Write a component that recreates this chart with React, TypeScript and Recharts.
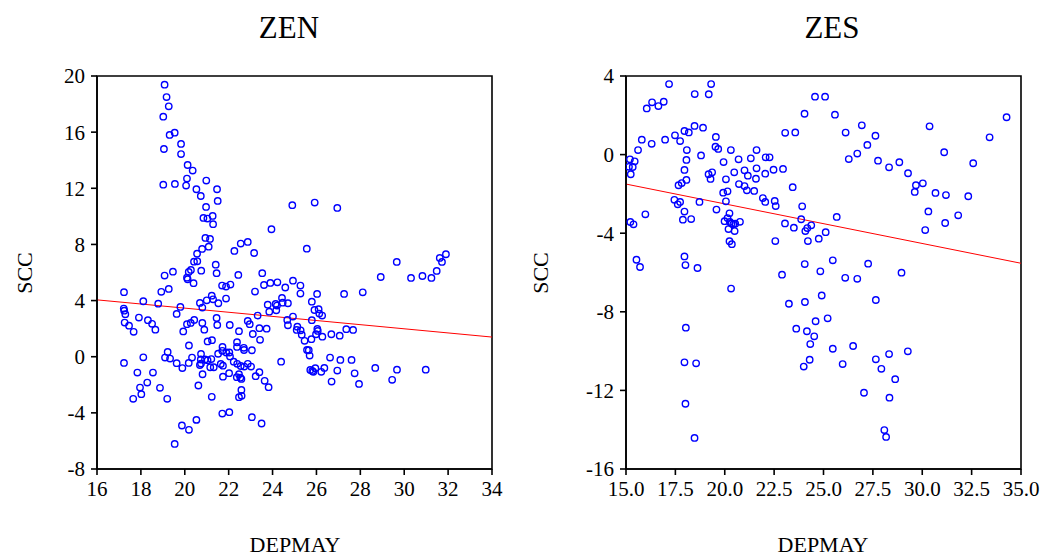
import React from 'react';
import {
  ScatterChart,
  Scatter,
  XAxis,
  YAxis,
  ReferenceArea,
  ReferenceLine,
} from 'recharts';

// ZEN panel
const zenDepmay = [
  19.08, 19.17, 19.27, 19.02, 19.54, 19.31, 19.05, 19.83, 19.83, 20.13, 20.36, 20.1, 20.98, 19.02, 19.55, 20.06,
  20.53, 21.47, 20.73, 21.5, 20.97, 20.85, 21.03, 21.27, 21.29, 23.95, 20.94, 21.15, 21.09, 20.79, 20.56, 20.42,
  20.57, 21.41, 22.26, 22.55, 22.87, 23.16,
  20.18, 20.28, 20.1, 20.13, 19.46, 19.08, 20.75, 21.45, 22.44, 23.53, 20.4, 19.27, 18.93, 17.23, 21.7, 21.88,
  22.08, 23.61, 23.9, 24.22, 23.2, 24.58, 18.11, 18.79, 20.69, 20.8, 21.0, 21.23, 21.29, 21.53, 21.88, 19.8,
  23.78, 24.14, 24.2, 24.46, 24.43, 24.7, 17.22, 17.24, 17.29, 17.91, 18.32, 18.51, 18.66, 17.26, 17.46, 17.67,
  19.63, 20.43, 20.27, 20.1, 19.93, 20.8, 20.89, 21.45, 21.48, 22.05, 22.47, 22.87, 22.96, 23.32, 23.4, 23.73,
  23.1, 23.43, 23.85, 24.17, 24.67, 24.7, 20.19, 21.04, 21.24, 22.38, 22.38, 22.69, 22.7, 23.06, 21.72, 21.71,
  21.89, 22.03, 22.06, 21.52, 19.22, 19.1, 19.33, 18.11, 20.74, 20.73, 20.33, 20.92, 21.04, 21.21, 20.18, 20.69,
  20.74, 19.63, 19.89, 17.23, 21.16, 21.32, 21.64, 21.74, 22.23, 22.39, 22.55, 22.71, 22.87, 23.02, 24.39, 17.84,
  18.55, 20.81, 21.74, 22.02, 22.37, 22.47, 22.53, 22.58, 23.23, 23.4, 18.29, 17.96, 18.87, 20.62, 23.64, 23.82,
  22.58, 18.02, 17.65, 19.2, 21.23, 22.47, 22.59, 21.71, 22.03, 23.06, 23.5, 19.87, 20.19, 20.53, 19.54,
  24.9, 25.92, 26.95, 25.56, 29.66, 31.62, 31.72, 31.9, 31.48, 31.24, 30.83, 30.31, 28.93, 28.11, 27.26, 24.93,
  25.27, 25.27, 26.03, 25.79, 25.91, 26.1, 26.13, 26.26, 24.93, 25.79, 25.13, 25.1, 25.28, 25.33, 25.46, 25.77,
  25.98, 26.04, 26.06, 26.27, 26.68, 27.06, 27.36, 27.67, 25.57, 25.65, 25.69, 26.62, 27.09, 27.6, 25.72, 25.81,
  25.86, 25.95, 26.22, 26.36, 26.95, 27.74, 26.69, 27.94, 28.68, 29.67, 30.98, 29.45,
];
const zenScc = [
  19.38, 18.5, 17.84, 17.1, 15.96, 15.8, 14.8, 15.16, 14.44, 13.66, 13.26, 12.69, 12.55, 12.26, 12.31, 12.19,
  11.93, 11.93, 11.45, 11.1, 10.67, 9.89, 9.84, 10.03, 9.44, 9.08, 8.46, 8.39, 7.84, 7.68, 7.34, 6.77,
  6.8, 6.56, 7.54, 8.06, 8.18, 7.39,
  6.04, 6.18, 5.63, 5.52, 6.06, 5.78, 6.13, 5.95, 5.83, 5.95, 5.24, 4.83, 4.62, 4.6, 5.07, 5.0,
  5.14, 5.11, 5.26, 5.3, 4.64, 4.93, 3.95, 3.78, 3.83, 3.5, 4.02, 4.35, 4.09, 3.81, 4.14, 3.55,
  3.71, 3.76, 3.64, 3.85, 4.19, 3.81, 3.43, 3.28, 3.03, 2.79, 2.6, 2.34, 1.93, 2.43, 2.21, 1.77,
  3.05, 2.62, 2.41, 2.32, 1.8, 2.41, 1.93, 2.76, 2.26, 2.26, 1.82, 2.55, 2.32, 2.93, 2.03, 2.0,
  1.62, 1.2, 3.21, 3.31, 2.62, 2.24, 0.8, 1.09, 1.18, 1.03, 0.7, 0.63, 0.48, 0.46, 0.7, 0.42,
  0.3, 0.3, 0.02, 0.21, 0.34, -0.06, -0.13, -0.04, 0.2, -0.2, -0.06, -0.2, -0.25, -0.17, -0.44, -0.59,
  -0.49, -0.46, -0.81, -0.44, -0.75, -0.75, -0.52, -0.64, -0.35, -0.51, -0.66, -0.7, -0.51, -0.7, -0.35, -1.13,
  -1.13, -1.25, -1.42, -1.17, -1.46, -1.25, -1.49, -1.58, -1.39, -1.1, -1.84, -2.2, -2.22, -2.05, -1.72, -2.17,
  -2.37, -2.67, -3.0, -3.0, -2.86, -2.88, -2.79, -4.05, -3.95, -4.31, -4.76, -4.9, -5.21, -4.5, -6.21,
  10.8, 10.98, 10.6, 7.7, 6.75, 7.04, 6.75, 7.3, 6.11, 5.61, 5.75, 5.61, 5.68, 4.59, 4.47, 5.42,
  5.07, 4.5, 4.47, 3.92, 3.33, 3.38, 3.07, 2.93, 2.86, 2.6, 2.14, 1.91, 1.88, 1.57, 1.13, 1.25,
  1.6, 1.98, 1.84, 1.43, 1.6, 1.5, 1.96, 1.91, 0.48, 0.46, 0.08, -0.06, -0.23, -0.23, -0.94, -1.01,
  -1.08, -0.82, -1.08, -0.8, -0.99, -1.18, -1.77, -1.94, -0.8, -0.92, -0.92, -1.65,
];
const zenFitX = [16, 34];
const zenFitY = [4.05, 1.4];
const zenXTicks = [16, 18, 20, 22, 24, 26, 28, 30, 32, 34];
const zenYTicks = [-8, -4, 0, 4, 8, 12, 16, 20];

// ZES panel
const zesDepmay = [
  17.18, 19.31, 18.48, 19.19, 16.32, 16.64, 16.91, 16.05, 24.57, 24.04, 17.48, 17.96, 18.18, 18.47, 18.9, 15.8,
  16.98, 16.3, 17.74, 15.61, 18.08, 19.55, 19.53, 19.67, 20.31, 21.61, 23.06, 23.57, 18.8, 15.2, 15.44, 15.15,
  15.34, 15.24, 18.06, 20.7, 21.32, 22.07, 22.27, 19.94, 17.96, 18.06, 19.18, 19.36, 19.28, 20.48, 21.0, 21.17,
  21.61, 21.58, 22.05, 22.47, 22.95, 20.06, 17.66, 17.82, 20.72, 21.0, 21.12, 21.49, 19.92, 20.14, 20.06, 21.93,
  22.05, 22.53, 22.58, 23.44, 17.45, 17.62, 17.74, 18.72, 19.58, 17.96, 15.98, 17.88, 18.3, 20.24, 20.14, 19.99,
  20.26, 20.34, 20.43, 20.53, 20.77, 20.19, 20.5, 15.22, 15.38, 23.05, 23.5, 23.92, 23.87, 24.08, 24.18, 24.38,
  22.56, 20.24, 20.36, 24.21, 24.76, 15.53, 15.71, 17.96, 18.01, 18.62, 24.05, 22.9, 24.84,
  20.32, 23.25, 24.06, 24.91, 24.6, 23.62, 24.16, 24.53, 24.33, 24.3, 24.0, 18.03, 17.96, 18.55, 18.01, 18.47,
  25.08, 25.58, 26.12, 26.94, 27.63, 27.22, 26.28, 26.71, 27.76, 28.32, 28.84, 29.28, 29.68, 30.03, 29.62, 30.37,
  31.11, 30.67, 31.2, 33.41, 34.27, 32.58, 32.33, 30.31, 31.82, 31.16, 30.15, 25.11, 25.67, 25.47, 26.1, 26.71,
  27.26, 28.95, 27.65, 25.21, 25.47, 26.5, 25.97, 27.65, 27.93, 28.32, 29.27, 28.63, 27.05, 28.34, 28.08, 28.17,
];
const zesScc = [
  3.59, 3.59, 3.08, 3.07, 2.66, 2.47, 2.69, 2.35, 2.95, 2.08, 0.98, 1.2, 1.13, 1.46, 1.37, 0.76,
  0.76, 0.55, 0.69, 0.23, 0.23, 0.9, 0.4, 0.29, 0.23, 0.23, 1.11, 1.13, -0.04, -0.24, -0.34, -0.62,
  -0.63, -1.0, -0.27, -0.24, -0.19, -0.14, -0.14, -0.38, -0.78, -1.29, -1.0, -0.9, -1.24, -0.9, -0.8, -1.07,
  -0.7, -1.23, -0.97, -0.77, -0.73, -1.26, -1.56, -1.45, -1.5, -1.6, -1.82, -1.85, -1.94, -1.87, -2.38, -2.21,
  -2.41, -2.36, -2.62, -1.66, -2.3, -2.53, -2.41, -2.41, -2.8, -2.9, -3.04, -3.31, -3.28, -2.99, -3.23, -3.39,
  -3.43, -3.5, -3.55, -3.52, -3.42, -3.79, -3.89, -3.43, -3.55, -3.5, -3.72, -2.63, -3.29, -3.89, -3.74, -3.6,
  -4.4, -4.41, -4.56, -4.4, -4.28, -5.35, -5.72, -5.18, -5.62, -5.77, -5.57, -6.11, -5.94,
  -6.82, -7.59, -7.5, -7.17, -8.48, -8.86, -8.99, -9.25, -9.64, -10.44, -10.79, -8.81, -10.57, -10.62, -12.68, -14.42,
  2.95, 2.03, 1.12, 1.49, 0.96, 0.49, -0.23, 0.05, -0.31, -0.65, -0.39, -0.95, -1.56, -1.46, -1.9, 1.44,
  0.12, -1.95, -2.06, 0.88, 1.9, -0.44, -2.12, -2.89, -3.09, -3.48, -3.84, -3.95, -3.17, -5.38, -6.27, -6.32,
  -5.55, -6.01, -7.4, -8.33, -9.88, -9.74, -10.66, -10.42, -10.9, -10.15, -10.01, -11.43, -12.12, -12.37, -14.02, -14.37,
];
const zesFitX = [15, 35];
const zesFitY = [-1.5, -5.53];
const zesXTicks = [15, 17.5, 20, 22.5, 25, 27.5, 30, 32.5, 35];
const zesYTicks = [-16, -12, -8, -4, 0, 4];

const FONT = '"Liberation Serif", "Times New Roman", serif';

const toPoints = (xs: number[], ys: number[]) => xs.map((x, i) => ({ x, y: ys[i] }));

const Ring = (props: any) => {
  const { cx, cy } = props;
  if (cx == null || cy == null) return null;
  return <circle cx={cx} cy={cy} r={3.2} fill="none" stroke="#0000ff" strokeWidth={1.4} />;
};

interface PanelProps {
  left: number;
  width: number;
  marginLeft: number;
  marginRight: number;
  title: string;
  titleX: number;
  labelX: number;
  sccX: number;
  xs: number[];
  ys: number[];
  xTicks: number[];
  yTicks: number[];
  fitX: number[];
  fitY: number[];
  xFormat?: (v: number) => string;
}

function Panel(p: PanelProps) {
  const data = toPoints(p.xs, p.ys);
  const xDomain = [p.xTicks[0], p.xTicks[p.xTicks.length - 1]];
  const yDomain = [p.yTicks[0], p.yTicks[p.yTicks.length - 1]];
  const tickStyle = { fill: '#000', fontSize: 21, fontFamily: FONT };
  const textBase: React.CSSProperties = {
    position: 'absolute',
    fontFamily: FONT,
    color: '#000',
    whiteSpace: 'nowrap',
    lineHeight: 1,
  };

  return (
    <div style={{ position: 'absolute', left: p.left, top: 0, width: p.width, height: 556 }}>
      <ScatterChart
        width={p.width}
        height={556}
        margin={{ top: 76, right: p.marginRight, bottom: 0, left: p.marginLeft }}
      >
        <XAxis
          type="number"
          dataKey="x"
          domain={xDomain}
          ticks={p.xTicks}
          interval={0}
          allowDataOverflow
          height={87}
          tickSize={6}
          tickMargin={6}
          tick={tickStyle}
          tickFormatter={p.xFormat}
          stroke="#000"
          strokeWidth={1.6}
        />
        <YAxis
          type="number"
          dataKey="y"
          domain={yDomain}
          ticks={p.yTicks}
          interval={0}
          allowDataOverflow
          width={60}
          tickSize={6}
          tickMargin={6}
          tick={tickStyle}
          stroke="#000"
          strokeWidth={1.6}
        />
        <ReferenceArea
          x1={xDomain[0]}
          x2={xDomain[1]}
          y1={yDomain[0]}
          y2={yDomain[1]}
          fill="none"
          stroke="#000"
          strokeWidth={1.6}
        />
        <ReferenceLine
          segment={[
            { x: p.fitX[0], y: p.fitY[0] },
            { x: p.fitX[1], y: p.fitY[1] },
          ]}
          stroke="#ff0000"
          strokeWidth={1}
        />
        <Scatter data={data} shape={Ring} isAnimationActive={false} />
      </ScatterChart>
      <div style={{ ...textBase, left: p.titleX, top: 27, fontSize: 31, transform: 'translate(-50%, -50%)' }}>
        {p.title}
      </div>
      <div style={{ ...textBase, left: p.labelX, top: 545, fontSize: 22, transform: 'translate(-50%, -50%)' }}>
        DEPMAY
      </div>
      <div
        style={{
          ...textBase,
          left: p.sccX,
          top: 273,
          fontSize: 22,
          transform: 'translate(-50%, -50%) rotate(-90deg)',
        }}
      >
        SCC
      </div>
    </div>
  );
}

export default function App() {
  return (
    <div style={{ position: 'absolute', left: 0, top: 0, width: 1041, height: 556, background: '#fff' }}>
      <Panel
        left={0}
        width={520}
        marginLeft={37}
        marginRight={28}
        title="ZEN"
        titleX={289}
        labelX={295}
        sccX={25}
        xs={zenDepmay}
        ys={zenScc}
        xTicks={zenXTicks}
        yTicks={zenYTicks}
        fitX={zenFitX}
        fitY={zenFitY}
      />
      <Panel
        left={520}
        width={521}
        marginLeft={46}
        marginRight={20}
        title="ZES"
        titleX={312}
        labelX={303}
        sccX={21}
        xs={zesDepmay}
        ys={zesScc}
        xTicks={zesXTicks}
        yTicks={zesYTicks}
        fitX={zesFitX}
        fitY={zesFitY}
        xFormat={(v: number) => v.toFixed(1)}
      />
    </div>
  );
}
